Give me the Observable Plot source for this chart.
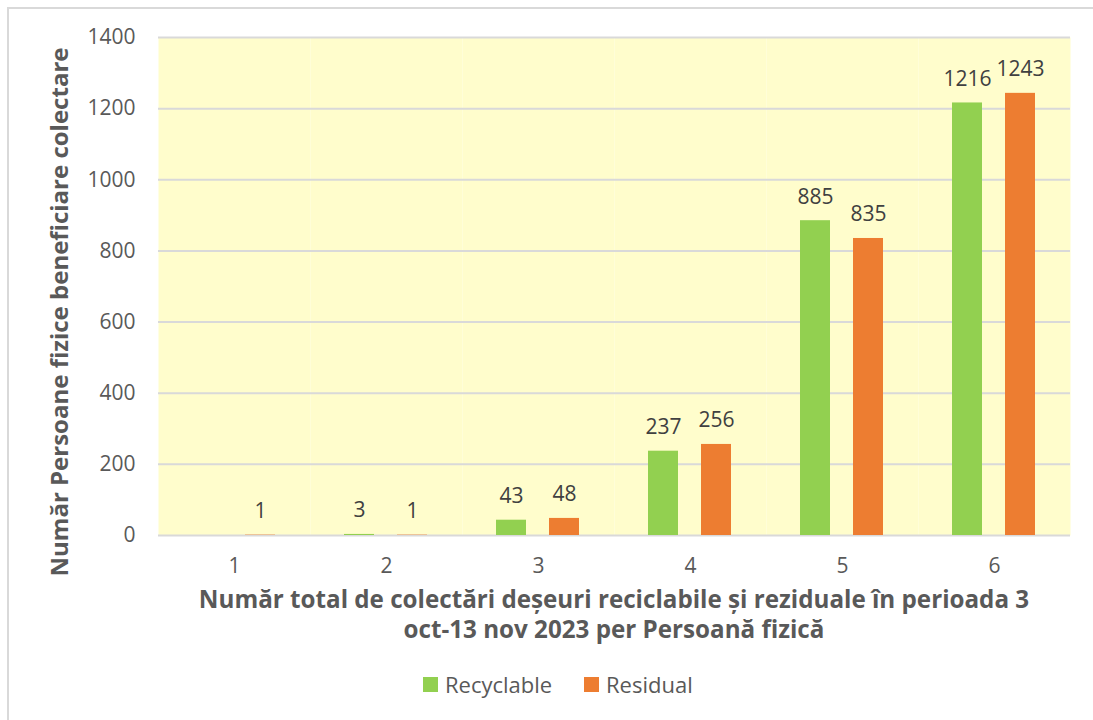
<!DOCTYPE html>
<html>
<head>
<meta charset="utf-8">
<script src="https://cdn.jsdelivr.net/npm/d3@7"></script>
<script src="https://cdn.jsdelivr.net/npm/@observablehq/plot@0.6"></script>
<style>
  html, body { margin: 0; padding: 0; background: #fff; }
  #wrap { position: relative; width: 1093px; height: 720px; overflow: hidden; font-family: "Open Sans", "Liberation Sans", sans-serif; }
  #border { position: absolute; left: 7px; top: 7px; width: 1200px; height: 800px; border-left: 2px solid #d9d9d9; border-top: 2px solid #d9d9d9; box-sizing: border-box; }
  #chart { position: absolute; left: 0; top: 0; }
  .ylab { position: absolute; left: 58px; top: 312px; transform: translate(-50%, -50%) rotate(-90deg); white-space: nowrap; font-weight: 700; font-size: 24px; color: #595959; }
  .xlab { position: absolute; left: 614px; top: 583.5px; transform: translateX(-50%); white-space: nowrap; text-align: center; font-weight: 700; font-size: 24.2px; line-height: 30px; color: #595959; }
  .legend { position: absolute; top: 669px; left: 423px; font-size: 22px; color: #595959; }
  .item { position: absolute; top: 0; display: flex; align-items: center; white-space: nowrap; }
  .sw { width: 15px; height: 15px; margin-right: 7px; }
</style>
</head>
<body>
<div id="wrap">
  <div id="border"></div>
  <div id="chart"></div>
  <div class="ylab">Număr Persoane fizice beneficiare colectare</div>
  <div class="xlab">Număr total de colectări deșeuri reciclabile și reziduale în perioada 3<br>oct-13 nov 2023 per Persoană fizică</div>
  <div class="legend" id="legend"></div>
</div>
<script>
const categories = ["1", "2", "3", "4", "5", "6"];
const series = ["Recyclable", "Residual"];
const recyclable = [null, 3, 43, 237, 885, 1216];
const residual = [1, 1, 48, 256, 835, 1243];
const colors = ["#92D050", "#ED7D31"];
const yTicks = [0, 200, 400, 600, 800, 1000, 1200, 1400];

const data = [];
categories.forEach((c, i) => {
  if (recyclable[i] != null) data.push({cat: c, series: "Recyclable", value: recyclable[i]});
  if (residual[i] != null) data.push({cat: c, series: "Residual", value: residual[i]});
});

const chart = Plot.plot({
  width: 1093,
  height: 720,
  marginTop: 37,
  marginBottom: 185,
  marginLeft: 156,
  marginRight: 21,
  style: {fontFamily: "'Open Sans', 'Liberation Sans', sans-serif", background: "transparent"},
  fx: {domain: categories, padding: 0, label: null},
  x: {domain: series, paddingInner: 0.426, paddingOuter: 0.627, axis: null},
  y: {domain: [0, 1400], label: null},
  color: {domain: series, range: colors},
  marks: [
    Plot.frame({fill: "#FFFDCC", stroke: null}),
    Plot.gridY(yTicks, {stroke: "#d9d9d9", strokeOpacity: 1, strokeWidth: 2}),
    Plot.axisY(yTicks, {tickSize: 0, tickPadding: 23, fontSize: 21, fill: "#595959", tickFormat: d3.format("d"), label: null}),
    Plot.axisFx({anchor: "bottom", tickSize: 0, tickPadding: 23, fontSize: 21, fill: "#595959", label: null}),
    Plot.barY(data, {fx: "cat", x: "series", y: "value", fill: "series"}),
    Plot.text(data, {fx: "cat", x: "series", y: "value", text: d => String(d.value), lineAnchor: "bottom", dy: -17, fontSize: 21, fill: "#404040"})
  ]
});
document.getElementById("chart").appendChild(chart);

const leg = document.getElementById("legend");
const offsets = [0, 161];
series.forEach((s, i) => {
  const it = document.createElement("div");
  it.className = "item";
  it.style.left = offsets[i] + "px";
  it.innerHTML = `<span class="sw" style="background:${colors[i]}"></span><span>${s}</span>`;
  leg.appendChild(it);
});
</script>
</body>
</html>
